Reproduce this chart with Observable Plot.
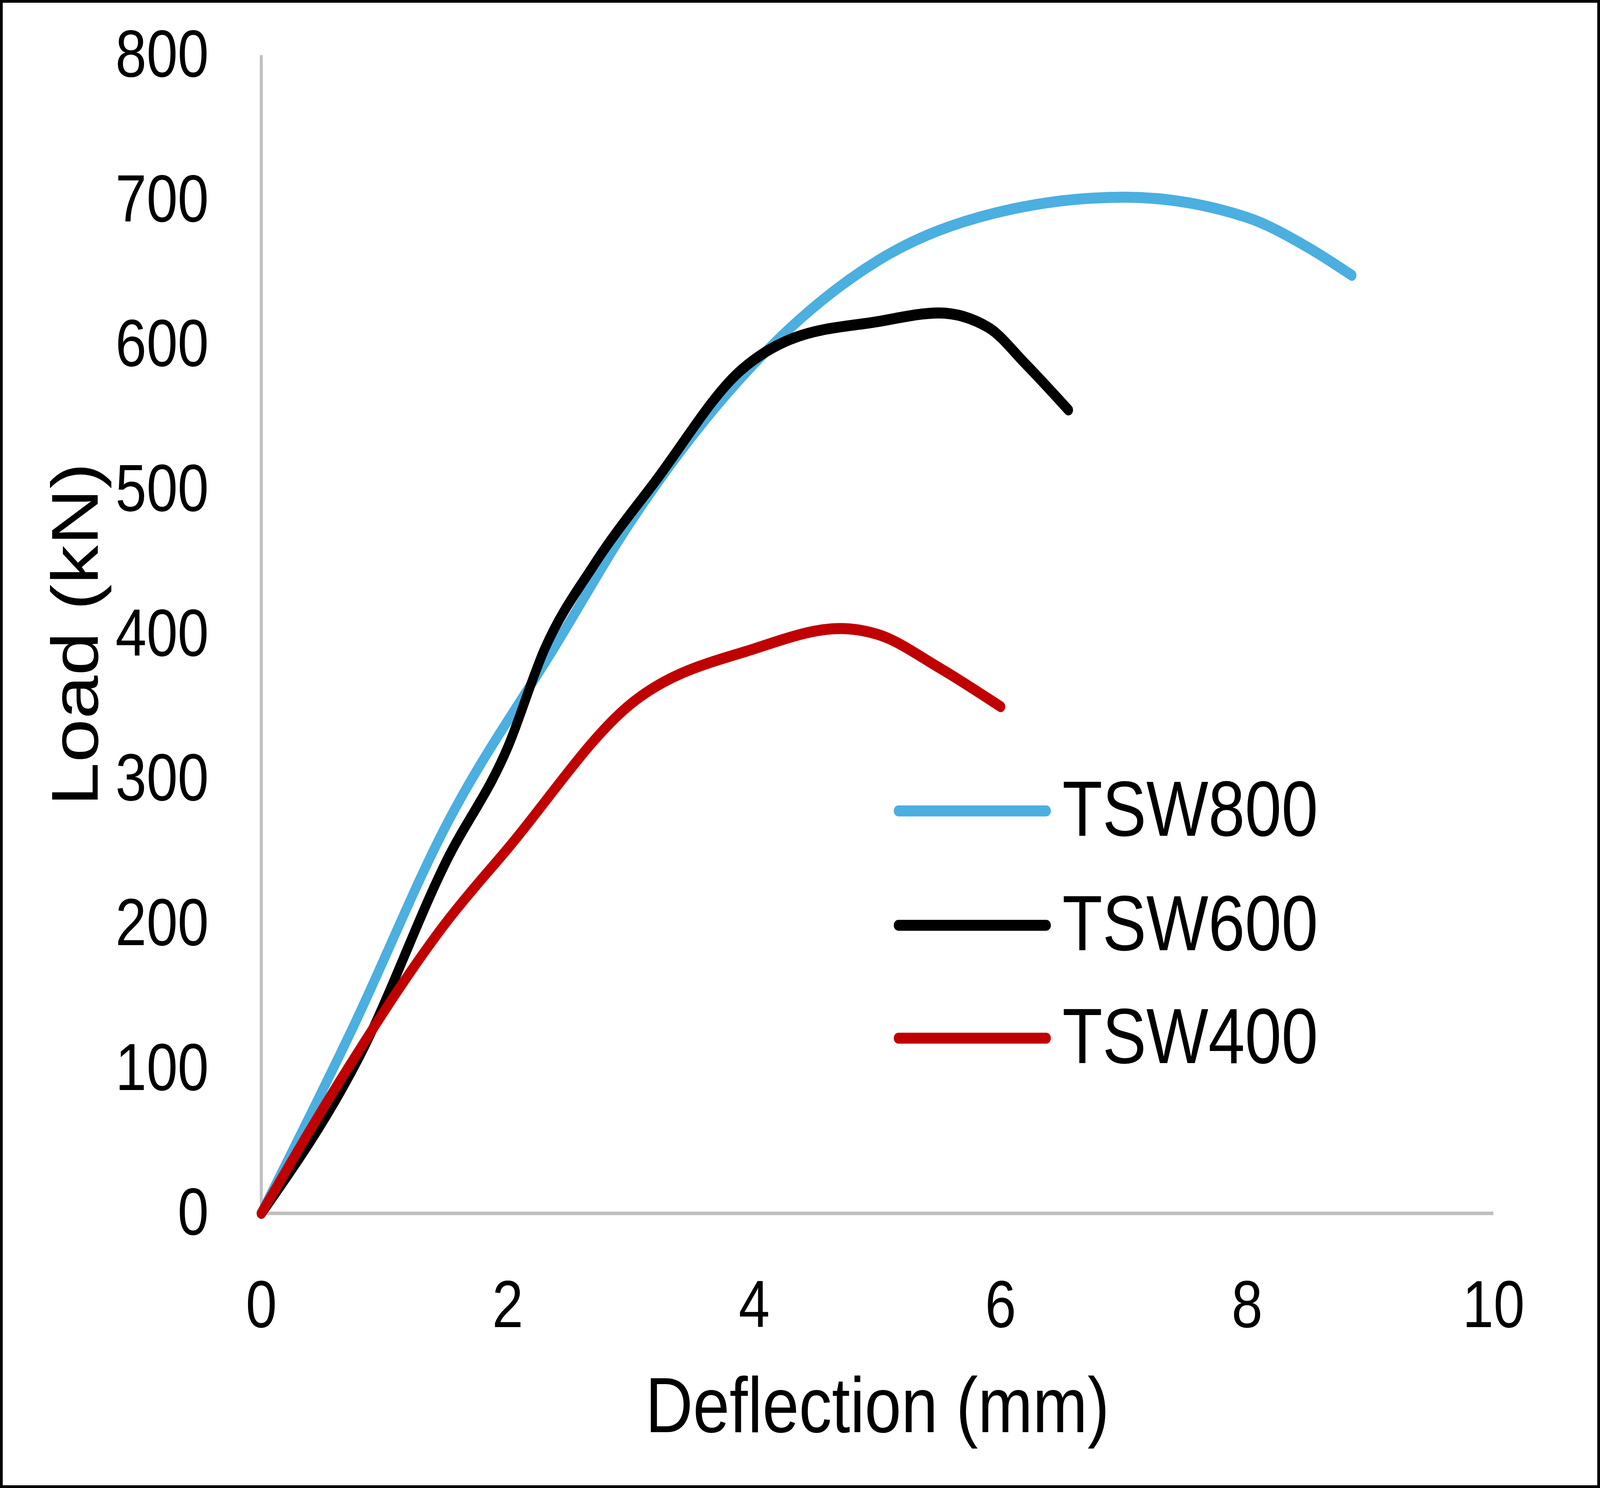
<!DOCTYPE html>
<html><head>
<script src="https://cdn.jsdelivr.net/npm/d3@7"></script>
<script src="https://cdn.jsdelivr.net/npm/@observablehq/plot@0.6"></script>
<style>html,body{margin:0;padding:0;background:#fff;overflow:hidden}#c{width:100vw;height:100vh;box-sizing:border-box;border:0.19vw solid #000;overflow:hidden}#c svg{width:100%;height:100%;display:block;max-width:none}</style>
</head><body><div id="c"></div>
<script>
const series = ["TSW800","TSW600","TSW400"];
const colors = ["#4BAFE0","#000000","#C00000"];
const x800 = [0,0.73,1.5,2.4,3,4,5,6,7,8,8.5,8.85];
const y800 = [0,126,268,394,478,587,658,692,702,688,667,648];
const x600 = [0,0.8,1.5,2,2.3,2.7,3.2,3.9,4.3,5,5.5,5.9,6.2,6.55];
const y600 = [0,109,243,322,390,448,506,583,604,616,622,612,587,555];
const x400 = [0,0.7,1.5,2,3,4,4.7,5,5.5,6];
const y400 = [0,100,201,252,352,390,404,400,377,350];
const xTicks = [0,2,4,6,8,10];
const yTicks = [0,100,200,300,400,500,600,700,800];
const legendY = [278,199,121];

const data = [];
[[x800,y800],[x600,y600],[x400,y400]].forEach(([xs,ys],i)=>xs.forEach((x,j)=>data.push({s:series[i],x,y:ys[j]})));
const leg = [];
series.forEach((s,i)=>{leg.push({s,x:5.17,y:legendY[i]});leg.push({s,x:6.37,y:legendY[i]});});
const legText = series.map((s,i)=>({s,x:6.5,y:legendY[i]}));

const plot = Plot.plot({
  width:4850, height:3792,
  marginLeft:786, marginRight:316, marginTop:134, marginBottom:696,
  style:{fontFamily:"'Liberation Sans', Arial, sans-serif", background:"#fff"},
  x:{domain:[0,10]}, y:{domain:[0,800]},
  color:{domain:series, range:colors},
  marks:[
    Plot.ruleX([0],{stroke:"#BFBFBF",strokeWidth:9}),
    Plot.ruleY([0],{stroke:"#BFBFBF",strokeWidth:9}),
    Plot.axisX({ticks:xTicks,tickSize:0,tickPadding:170,fontSize:170,label:"Deflection (mm)",labelAnchor:"center",labelArrow:"none",labelOffset:560}),
    Plot.axisY({ticks:yTicks,tickSize:0,tickPadding:160,fontSize:170,label:"Load (kN)",labelAnchor:"center",labelArrow:"none",labelOffset:640}),
    Plot.line(data,{x:"x",y:"y",z:"s",stroke:"s",strokeWidth:28,curve:"monotone-x",strokeLinecap:"round",strokeLinejoin:"round"}),
    Plot.line(leg,{x:"x",y:"y",z:"s",stroke:"s",strokeWidth:28,strokeLinecap:"round"}),
    Plot.text(legText,{x:"x",y:"y",text:"s",textAnchor:"start",fontSize:200,fill:"#000"})
  ]
});
plot.querySelectorAll("[aria-label='x-axis label'] text, [aria-label='y-axis label'] text").forEach(t=>t.setAttribute("font-size","200"));
plot.setAttribute("preserveAspectRatio","none");
document.getElementById("c").appendChild(plot);
</script></body></html>
